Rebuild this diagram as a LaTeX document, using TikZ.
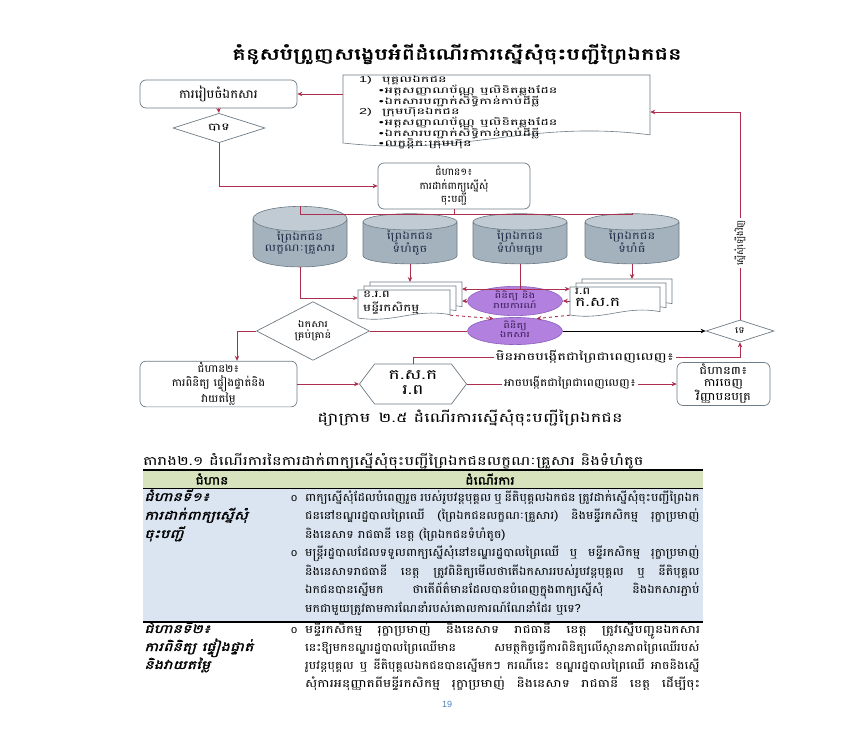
\documentclass[tikz,border=0pt]{standalone}
\usepackage{fontspec}
\usepackage{graphicx}
\setmainfont{Liberation Sans}
\newfontfamily\kh[Script=Khmer]{Battambang}
\newfontfamily\khb[Script=Khmer,FakeBold=1.6]{Battambang}
\newfontfamily\khbi[Script=Khmer,FakeSlant=0.22,FakeBold=1.4]{Battambang}
\usetikzlibrary{arrows.meta,shapes.geometric,shapes.symbols,calc}
\newcommand\hx[2]{\scalebox{#1}[1]{\begin{tabular}{@{}c@{}}#2\end{tabular}}}
\newcommand\hxl[2]{\scalebox{#1}[1]{\begin{tabular}{@{}l@{}}#2\end{tabular}}}
\newcommand\sx[2]{\scalebox{#1}[1]{#2}}
\newcommand\jl[1]{\scalebox{1.14}[1]{\makebox[346pt][s]{#1}}}
\newcommand\jlw[1]{\scalebox{1.25}[1]{\makebox[316pt][s]{#1}}}
\definecolor{lnred}{RGB}{172,48,78}
\definecolor{boxgray}{RGB}{110,124,134}
\definecolor{cylbody}{RGB}{163,178,189}
\definecolor{cylend}{RGB}{192,203,211}
\definecolor{cylline}{RGB}{105,120,130}
\definecolor{cyltext}{RGB}{35,50,75}
\definecolor{ellfill}{RGB}{178,128,222}
\definecolor{ellline}{RGB}{140,95,190}
\definecolor{elltext}{RGB}{60,30,90}
\definecolor{hdrgreen}{RGB}{215,227,189}
\definecolor{rowblue}{RGB}{219,229,241}
\definecolor{pgblue}{RGB}{79,129,189}
\tikzset{
  conn/.style={draw=lnred, line width=0.9pt},
  arr/.style={conn, -{Stealth[length=5pt,width=4.5pt]}},
  arrblack/.style={draw=black, line width=0.9pt, -{Stealth[length=5pt,width=4.5pt]}},
  box/.style={draw=boxgray, line width=0.7pt, rounded corners=6pt, fill=white, inner sep=1pt, font=\kh\fontsize{10}{11.5}\selectfont},
  dia/.style={shape=diamond, draw=boxgray, line width=0.7pt, fill=white, inner sep=0pt, font=\kh\fontsize{9}{10}\selectfont},
  cyl/.style={shape=cylinder, shape border rotate=90, aspect=0.35, draw=cylline, line width=0.6pt, cylinder uses custom fill, cylinder body fill=cylbody, cylinder end fill=cylend, minimum width=94pt, minimum height=40pt, inner sep=0pt, font=\kh\fontsize{10}{10.5}\selectfont, text=cyltext},
  ell/.style={shape=ellipse, draw=ellline, line width=0.6pt, fill=ellfill, minimum width=95pt, minimum height=22pt, inner sep=0pt, font=\kh\fontsize{8}{9}\selectfont, text=elltext},
  hexa/.style={shape=signal, signal to=west and east, signal pointer angle=106, draw=boxgray, line width=0.7pt, fill=white, minimum width=107pt, minimum height=40pt, inner sep=0pt, font=\kh\fontsize{14}{15}\selectfont},
  sheet/.style={draw=boxgray, line width=0.6pt, fill=white},
  ghost/.style={inner sep=0pt},
  lbl/.style={fill=white, inner sep=2pt, font=\kh\fontsize{10.5}{12}\selectfont},
  tb/.style={anchor=base west, inner sep=0pt, font=\kh\fontsize{11}{12}\selectfont},
  tbl/.style={anchor=base west, inner sep=0pt, font=\khbi\fontsize{12}{13}\selectfont},
  pics/docsheet/.style n args={2}{code={%
    \draw[sheet] (0,0) -- (#1,0) -- (#1,{#2*0.88}) .. controls ({#1*0.6},{#2*0.65}) and ({#1*0.4},{#2*1.2}) .. (0,#2) -- cycle;}}
}
\begin{document}
\begin{tikzpicture}[x=1pt,y=-1pt]
\useasboundingbox[fill=white] (0,0) rectangle (856,747);

% title
\node[font=\khb\fontsize{16}{18}\selectfont] (title) at (457,54) {\sx{1.42}{គំនូសបំព្រួញសង្ខេបអំពីដំណើរការស្នើសុំចុះបញ្ជីព្រៃឯកជន}};

% preparing documents
\node[box, minimum width=157pt, minimum height=28pt, font=\kh\fontsize{12}{13}\selectfont] (n1) at (218.5,94) {\sx{1.1}{ការរៀបចំឯកសារ}};
\node[dia, minimum width=92pt, minimum height=23pt, font=\kh\fontsize{10}{11}\selectfont] (d1) at (219,128) {\sx{1.5}{បាទ}};

% document list
\node[ghost, minimum width=307pt, minimum height=62pt] (doc) at (496.5,106) {};
\pic at (343,75) {docsheet={307}{68}};
\node[anchor=north west, inner sep=0pt, font=\kh\fontsize{8.5}{8.8}\selectfont] (doctext) at (359,76) {\hxl{1.7}{%
\makebox[13.5pt][l]{\rmfamily 1)}បុគ្គលឯកជន\\
\hspace*{11.5pt}\makebox[3.5pt][l]{\rmfamily •}អត្តសញ្ញាណប័ណ្ណ ឬលិខិតឆ្លងដែន\\
\hspace*{11.5pt}\makebox[3.5pt][l]{\rmfamily •}ឯកសារបញ្ជាក់សិទ្ធិកាន់កាប់ដីធ្លី\\
\makebox[13.5pt][l]{\rmfamily 2)}ក្រុមហ៊ុនឯកជន\\
\hspace*{11.5pt}\makebox[3.5pt][l]{\rmfamily •}អត្តសញ្ញាណប័ណ្ណ ឬលិខិតឆ្លងដែន\\
\hspace*{11.5pt}\makebox[3.5pt][l]{\rmfamily •}ឯកសារបញ្ជាក់សិទ្ធិកាន់កាប់ដីធ្លី\\
\hspace*{11.5pt}\makebox[3.5pt][l]{\rmfamily •}លក្ខន្តិកៈក្រុមហ៊ុន}};

% stage 1
\node[box, minimum width=152pt, minimum height=46pt] (s1) at (454,186) {\hx{1.05}{ជំហាន១៖\\ការដាក់ពាក្យស្នើសុំ\\ចុះបញ្ជី}};

% cylinders
\node[cyl] (c1) at (300,243) {\raisebox{-3pt}{\hx{1.3}{ព្រៃឯកជន\\លក្ខណៈគ្រួសារ}}};
\node[cyl] (c2) at (410,243) {\raisebox{-3pt}{\hx{1.3}{ព្រៃឯកជន\\ទំហំតូច}}};
\node[cyl] (c3) at (520,243) {\raisebox{-3pt}{\hx{1.3}{ព្រៃឯកជន\\ទំហំមធ្យម}}};
\node[cyl] (c4) at (632,243) {\raisebox{-3pt}{\hx{1.3}{ព្រៃឯកជន\\ទំហំធំ}}};

% stacks of sheets
\pic at (370,282) {docsheet={92}{28}};
\pic at (364,286) {docsheet={92}{28}};
\pic at (358,290) {docsheet={92}{28}};
\node[ghost, minimum width=92pt, minimum height=28pt] (st1) at (404,304) {};
\node[anchor=north west, inner sep=0pt, font=\kh\fontsize{10}{11}\selectfont] (st1t) at (363,290) {\hxl{1.35}{ខ.រ.ព\\មន្ទីរកសិកម្ម}};
\coordinate (st1top) at (416,282);
\coordinate (st1r) at (462,289);

\pic at (582,279) {docsheet={90}{28}};
\pic at (576,283) {docsheet={90}{28}};
\pic at (570,287) {docsheet={90}{28}};
\node[ghost, minimum width=90pt, minimum height=28pt] (st2) at (615,301) {};
\node[anchor=north west, inner sep=0pt, font=\kh\fontsize{10}{12}\selectfont] (st2t) at (575,286) {\hxl{1.35}{រ.ព\\{\fontsize{13}{13}\selectfont ក.ស.ក}}};
\coordinate (st2top) at (632,279);

% ellipses
\node[ell] (e1) at (515,301) {\hx{1.4}{ពិនិត្យ និង\\រាយការណ៍}};
\node[ell] (e2) at (515,331) {\hx{1.4}{ពិនិត្យ\\ឯកសារ}};

% decisions
\node[dia, minimum width=113pt, minimum height=37pt] (d2) at (313,331) {\hx{1.25}{ឯកសារ\\គ្រប់គ្រាន់}};
\node[dia, minimum width=68pt, minimum height=22pt] (dn) at (740,331) {\sx{1.2}{ទេ}};

% stage 2, hexagon, stage 3
\node[box, minimum width=157pt, minimum height=45pt, font=\kh\fontsize{10.5}{12}\selectfont] (s2) at (218.5,384) {\hx{1.1}{ជំហាន២៖\\ការពិនិត្យ ផ្ទៀងផ្ទាត់និង\\វាយតម្លៃ}};
\node[hexa] (h) at (413,384) {\hx{1.35}{ក.ស.ក\\រ.ព}};
\node[box, minimum width=93pt, minimum height=43pt, font=\kh\fontsize{11}{12}\selectfont] (s3) at (723.5,384) {\hx{1.2}{ជំហាន៣៖\\ការចេញ\\វិញ្ញាបនបត្រ}};

% connectors
\draw[arr] (doc.west |- n1.east) -- (n1.east);
\draw[arr] (n1.south) -- (d1.north);
\draw[arr] (d1.south) |- (s1.west);
\draw[conn] (s1.south) -- ++(0,5) coordinate (bk);
\draw[conn] (c1.north) -- (c1.north |- bk) -- (c4.north |- bk) -- (c4.north);
\draw[arr] (c1.south) |- ([yshift=6pt]st1.west);
\draw[arr] (c2.south) -- (c2.south |- st1top);
\draw[conn] (c3.south) -- (c3.south |- st1r) coordinate (j3);
\draw[arr] (j3) -- (st1r);
\draw[arr] (j3) -- (j3 -| st2.west);
\draw[arr] (c4.south) -- (st2top);
\draw[arr] (e1.west) -- (e1.west -| st1r);
\draw[arr] (e1.east -| st2.west) -- (e1.east);
\draw[arr, dashed] ([yshift=3pt]st1.south east) -- (e2.150);
\draw[arr, dashed] (st2.south west) -- (e2.30);
\draw[conn] (e2.west) -- (d2.east);
\draw[arrblack] (e2.east) -- (dn.west);
\draw[arr] (d2.west) -| ([xshift=18.5pt]s2.north);
\draw[arr] (s2.east) -- (h.west);
\draw[arr] (h.north) |- ($(dn.south)+(0,15)$) -- (dn.south);
\node[lbl] (lab1) at (585,357) {\sx{1.4}{មិនអាចបង្កើតជាព្រៃជាពេញលេញ៖}};
\draw[arr] (h.east) -- (s3.west);
\node[lbl] (lab2) at (570,383) {\sx{1.15}{អាចបង្កើតជាព្រៃជាពេញលេញ៖}};
\draw[arr] (dn.north) |- ([yshift=-6pt]doc.east);
\node[lbl, rotate=90, font=\kh\fontsize{9}{10}\selectfont] (lab3) at (740,243) {ស្នើសុំឡើងវិញ};

% caption
\node[font=\kh\fontsize{13}{14}\selectfont] (cap) at (470,418) {\sx{1.37}{ដ្យាក្រាម\hspace{6pt}២.៥ ដំណើរការស្នើសុំចុះបញ្ជីព្រៃឯកជន}};

% table
\node[anchor=base west, inner sep=0pt, font=\kh\fontsize{12.5}{13}\selectfont] (tcap) at (143,465) {\sx{1.3}{តារាង២.១ ដំណើរការនៃការដាក់ពាក្យស្នើសុំចុះបញ្ជីព្រៃឯកជនលក្ខណៈគ្រួសារ និងទំហំតូច}};
\fill[hdrgreen] (143,470) rectangle (703,488);
\fill[rowblue] (143,488) rectangle (703,622);
\draw[line width=1.1pt] (143,470) -- (703,470);
\draw[line width=0.6pt] (143,488) -- (703,488);
\draw[line width=1.3pt] (143,622) -- (703,622);
\node[font=\khb\fontsize{11.5}{12}\selectfont, inner sep=0pt] (th1) at (212,479) {\sx{1.2}{ជំហាន}};
\node[font=\khb\fontsize{11.5}{12}\selectfont, inner sep=0pt] (th2) at (490,479) {\sx{1.2}{ដំណើរការ}};

\node[tbl] (r1a) at (144,501) {\sx{1.32}{ជំហានទី១៖}};
\node[tbl] (r1b) at (144,519.5) {\sx{1.32}{ការដាក់ពាក្យស្នើសុំ}};
\node[tbl] (r1c) at (144,538) {\sx{1.32}{ចុះបញ្ជី}};
\node[tb] (b1) at (291,501) {\rmfamily o};
\node[tb] (l1) at (305,501) {\jl{ពាក្យស្នើសុំដែលបំពេញរួច របស់រូបវន្តបុគ្គល ឬ នីតិបុគ្គលឯកជន ត្រូវដាក់ស្នើសុំចុះបញ្ជីព្រៃឯក}};
\node[tb] (l2) at (305,519.5) {\jl{ជននៅខណ្ឌរដ្ឋបាលព្រៃឈើ (ព្រៃឯកជនលក្ខណៈគ្រួសារ) និងមន្ទីរកសិកម្ម រុក្ខាប្រមាញ់}};
\node[tb] (l3) at (305,538) {\sx{1.14}{និងនេសាទ រាជធានី ខេត្ត (ព្រៃឯកជនទំហំតូច)}};
\node[tb] (b2) at (291,556.5) {\rmfamily o};
\node[tb] (l4) at (305,556.5) {\jl{មន្ត្រីរដ្ឋបាលដែលទទួលពាក្យស្នើសុំនៅខណ្ឌរដ្ឋបាលព្រៃឈើ ឬ មន្ទីរកសិកម្ម រុក្ខាប្រមាញ់}};
\node[tb] (l5) at (305,575) {\jl{និងនេសាទរាជធានី ខេត្ត ត្រូវពិនិត្យមើលថាតើឯកសាររបស់រូបវន្តបុគ្គល ឬ នីតិបុគ្គល}};
\node[tb] (l6) at (305,593.5) {\jl{ឯកជនបានស្នើមក ថាតើព័ត៌មានដែលបានបំពេញក្នុងពាក្យស្នើសុំ និងឯកសារភ្ជាប់}};
\node[tb] (l7) at (305,612) {\sx{1.14}{មកជាមួយត្រូវតាមការណែនាំរបស់គោលការណ៍ណែនាំដែរ ឬទេ?}};

\node[tbl] (r2a) at (144,633) {\sx{1.32}{ជំហានទី២៖}};
\node[tbl] (r2b) at (144,651) {\sx{1.32}{ការពិនិត្យ ផ្ទៀងផ្ទាត់}};
\node[tbl] (r2c) at (144,669) {\sx{1.32}{និងវាយតម្លៃ}};
\node[tb] (b3) at (291,633) {\rmfamily o};
\node[tb] (m1) at (305,633) {\jlw{មន្ទីរកសិកម្ម រុក្ខាប្រមាញ់ និងនេសាទ រាជធានី ខេត្ត ត្រូវស្នើបញ្ជូនឯកសារ}};
\node[tb] (m2) at (305,651) {\jl{នេះឱ្យមកខណ្ឌរដ្ឋបាលព្រៃឈើមាន សមត្ថកិច្ចធ្វើការពិនិត្យលើស្ថានភាពព្រៃឈើរបស់}};
\node[tb] (m3) at (305,669) {\jl{រូបវន្តបុគ្គល ឬ នីតិបុគ្គលឯកជនបានស្នើមកៗ ករណីនេះ ខណ្ឌរដ្ឋបាលព្រៃឈើ អាចនិងស្នើ}};
\node[tb] (m4) at (305,687) {\jlw{សុំការអនុញ្ញាតពីមន្ទីរកសិកម្ម រុក្ខាប្រមាញ់ និងនេសាទ រាជធានី ខេត្ត ដើម្បីចុះ}};

\node[font=\rmfamily\fontsize{9}{10}\selectfont, text=pgblue] (pg) at (447,704) {19};
\end{tikzpicture}
\end{document}
